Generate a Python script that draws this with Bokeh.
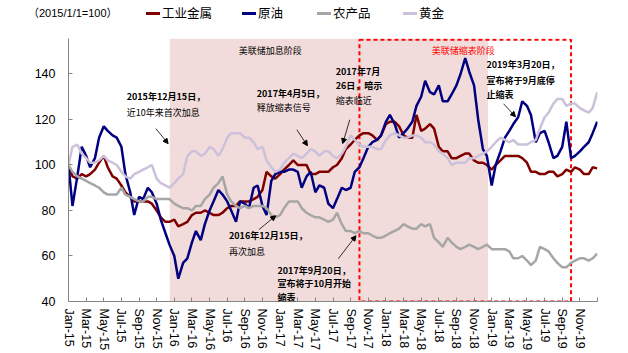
import pandas as pd
from bokeh.plotting import figure
from bokeh.layouts import column
from bokeh.models import (Range1d, FixedTicker, BoxAnnotation, Label, Arrow, NormalHead, Div)
from bokeh.embed import file_html
from bokeh.resources import INLINE

# ---------------- data (index, 2015/1/1 = 100), semi-monthly readings ----------------
dates = list(pd.date_range("2015-01-01", "2019-12-15", freq="SMS")) + [pd.Timestamp("2019-12-31")]

metals = [
    100, 95, 94, 96, 95, 96, 98, 101, 104, 99, 95, 94, 91, 88, 86, 84, 84, 84, 84, 83, 80, 77, 75, 75,
    76, 73, 74, 75, 78, 79, 79, 80, 79, 78, 78, 79, 81, 82, 82, 84, 84, 84, 85, 86, 89, 97, 95, 94,
    96, 98, 100, 102, 100, 100, 100, 96, 96, 97, 97, 97, 99, 100, 103, 107, 109, 111, 113, 114, 114, 113, 111, 113,
    118, 119, 119, 117, 113, 112, 112, 122, 115, 116, 118, 116, 108, 106, 106, 103, 103, 104, 105, 105, 102, 101, 101, 100,
    98, 100, 102, 104, 104, 104, 104, 103, 101, 97, 97, 96, 96, 97, 97, 95, 96, 98, 97, 99, 98, 96, 96, 99,
    98.5]

crude = [
    100, 82, 95, 108, 104, 99, 103, 112, 117, 115, 113, 112, 108, 96, 88, 78, 86, 85, 90, 88, 83, 76, 70, 65,
    60, 50, 57, 59, 66, 71, 67, 74, 80, 84, 89, 87, 84, 80, 75, 84, 83, 81, 90, 91, 82, 78, 93, 96,
    97, 97, 98, 98, 97, 90, 95, 97, 88, 91, 90, 83, 81, 85, 90, 89, 90, 97, 99, 103, 108, 110, 111, 113,
    119, 122, 118, 112, 114, 116, 119, 126, 130, 137, 132, 131, 135, 128, 128, 131, 135, 140, 147, 141, 135, 120, 107, 104,
    91, 100, 106, 112, 115, 118, 121, 128, 126, 122, 110, 114, 115, 110, 103, 104, 108, 119, 103, 104, 106, 108, 110, 114,
    119]

agri = [
    100, 97, 95, 94, 93, 92, 91, 90, 88, 87, 87, 87, 90, 87, 86, 85, 84, 84, 86, 86, 85, 85, 85, 85,
    83, 82, 81, 81, 80, 82, 82, 85, 87, 90, 92, 95, 87, 84, 82, 81, 82, 81, 82, 82, 82, 81, 78, 77,
    78, 81, 84, 84, 84, 81, 79, 78, 77, 77, 76, 75, 76, 79, 74, 71, 71, 70, 71, 70, 70, 69, 68, 68,
    69, 70, 71, 72, 74, 73, 72, 72, 74, 73, 74, 68, 66, 64, 68, 66, 64, 63, 64, 65, 64, 63, 64, 65,
    63, 63, 63, 63, 62, 59, 59, 60, 58, 56, 58, 64, 63, 62, 59, 57, 55, 55, 57, 58, 59, 59, 58, 59,
    61]

gold = [
    100, 108, 109, 105, 103, 101, 101, 102, 104, 102, 101, 100, 97, 95, 94, 96, 97, 98, 99, 100, 94, 92, 91, 90,
    92, 94, 96, 104, 106, 106, 104, 105, 108, 107, 104, 107, 112, 114, 114, 114, 112, 112, 110, 107, 108, 102, 99, 97,
    98, 101, 103, 105, 104, 103, 105, 107, 106, 104, 106, 106, 104, 103, 105, 108, 113, 111, 109, 108, 108, 108, 107, 107,
    111, 113, 114, 113, 112, 112, 113, 113, 112, 110, 110, 109, 106, 105, 103, 100, 101, 101, 101, 103, 103, 104, 105, 106,
    108, 110, 112, 111, 110, 111, 109, 109, 109, 110, 111, 116, 121, 123, 127, 129, 129, 126, 127, 127, 125, 124, 123, 125,
    132]

series_names = ["工业金属", "原油", "农产品", "黄金"]
series_colors = ["#800000", "#000080", "#A6A6A6", "#CCC1DA"]
unit_label = "（2015/1/1=100）"

month_names = ["Jan", "Mar", "May", "Jul", "Sep", "Nov"]
tick_labels = [f"{m}-{y % 100:02d}" for y in range(2015, 2020) for m in month_names]

hike_phase = ("2015-12-16", "2018-12-19")
shrink_phase = ("2017-10-01", "2019-10-01")


def month_pos(d):
    d = pd.Timestamp(d)
    return (d.year - 2015) * 12 + d.month - 1 + (d.day - 1) / d.days_in_month


x = [month_pos(d) for d in dates]

W = 628
HEAD = 38

# ---------------- header (unit note + legend) ----------------
legend_x = [146, 242, 317, 403]
parts = ['<div style="position:relative;width:%dpx;height:%dpx;margin:0;padding:0;'
         'color:black;white-space:nowrap;">' % (W, HEAD)]
parts.append('<span style="position:absolute;left:28px;top:4px;line-height:18px;'
             'font-family:\'Liberation Sans\',\'Noto Sans CJK SC\';font-size:11px;">%s</span>'
             % unit_label)
for lx, name, col in zip(legend_x, series_names, series_colors):
    parts.append('<span style="position:absolute;left:%dpx;top:12px;width:14px;height:3px;'
                 'background:%s;"></span>' % (lx, col))
    parts.append('<span style="position:absolute;left:%dpx;top:4px;line-height:18px;'
                 'font-family:\'Noto Sans CJK SC\';font-size:12.5px;">%s</span>'
                 % (lx + 16, name))
parts.append('</div>')
header = Div(text="".join(parts), width=W, height=HEAD, margin=0)

# ---------------- main figure ----------------
p = figure(width=W, height=353 - HEAD, output_backend="svg", toolbar_location=None,
           x_range=Range1d(0, 60), y_range=Range1d(40, 155.6),
           min_border_left=68, min_border_right=31, min_border_top=0, min_border_bottom=52)
p.outline_line_color = None
p.xgrid.visible = False
p.ygrid.visible = False
p.background_fill_color = "white"

# shaded phases
p.add_layout(BoxAnnotation(left=month_pos(hike_phase[0]), right=month_pos(hike_phase[1]),
                           fill_color="#F2DCDB", fill_alpha=1.0, line_color=None, level="underlay"))
p.add_layout(BoxAnnotation(left=month_pos(shrink_phase[0]), right=month_pos(shrink_phase[1]),
                           top=155.0, fill_alpha=0.0, line_color="#FF0000", line_alpha=1.0,
                           line_width=2, line_dash="4 3", level="underlay"))

for vals, col in zip([metals, crude, agri, gold], series_colors):
    p.line(x, vals, line_color=col, line_width=2.5)

# axes
for ax in (p.xaxis[0], p.yaxis[0]):
    ax.axis_line_color = "#868686"
    ax.major_tick_line_color = "#868686"
    ax.major_tick_in = 4
    ax.major_tick_out = 0
    ax.minor_tick_line_color = None
    ax.major_label_text_color = "black"
    ax.major_label_text_font = "Liberation Sans"
    ax.major_label_text_font_size = "12.5px"

p.yaxis.ticker = FixedTicker(ticks=[40, 60, 80, 100, 120, 140])
p.yaxis.major_label_standoff = 13

xt = list(range(0, 61, 2))
p.xaxis.ticker = FixedTicker(ticks=xt)
overrides = {t: lab for t, lab in zip(xt, tick_labels)}
overrides[60] = ""
p.xaxis.major_label_overrides = overrides
p.xaxis.major_label_orientation = "vertical"
p.xaxis.major_label_standoff = 7

# ---------------- annotations ----------------
FONT = "Noto Sans CJK SC"


def note(xm, yv, txt, bold=False, color="black"):
    p.add_layout(Label(x=xm, y=yv, text=txt, text_font=FONT, text_font_size="9px",
                       text_font_style="bold" if bold else "normal", text_color=color,
                       text_baseline="middle", text_align="left"))


def arrow(x0, y0, x1, y1):
    p.add_layout(Arrow(x_start=x0, y_start=y0, x_end=x1, y_end=y1,
                       line_color="black", line_width=0.8,
                       end=NormalHead(size=5, fill_color="black", line_color="black")))


note(19.3, 150.5, "美联储加息阶段")
note(41.2, 150.5, "美联储缩表阶段", color="#FF0000")

note(6.6, 130.0, "2015年12月15日，", bold=True)
note(6.6, 123.1, "近10年来首次加息")
arrow(9.9, 116.0, 11.3, 109.4)

note(21.35, 131.3, "2017年4月5日，", bold=True)
note(21.35, 125.2, "释放缩表信号")
arrow(25.9, 115.5, 27.1, 108.5)

note(30.3, 141.0, "2017年7月", bold=True)
note(30.3, 135.1, "26日，暗示", bold=True)
note(30.3, 128.3, "缩表临近")
arrow(31.9, 119.9, 31.1, 109.4)

note(47.4, 144.1, "2019年3月20日，", bold=True)
note(47.4, 137.0, "宣布将于9月底停", bold=True)
note(47.4, 130.9, "止缩表", bold=True)
arrow(49.35, 126.9, 50.7, 121.2)

note(18.2, 68.9, "2016年12月15日，", bold=True)
note(18.2, 61.9, "再次加息")
arrow(21.6, 71.6, 23.5, 77.7)

note(23.7, 53.6, "2017年9月20日，", bold=True)
note(23.7, 47.8, "宣布将于10月开始", bold=True)
note(23.7, 41.6, "缩表", bold=True)
arrow(30.6, 58.8, 32.6, 68.9)

layout = column(header, p, spacing=0)
open("out.html", "w").write(file_html(layout, INLINE))
